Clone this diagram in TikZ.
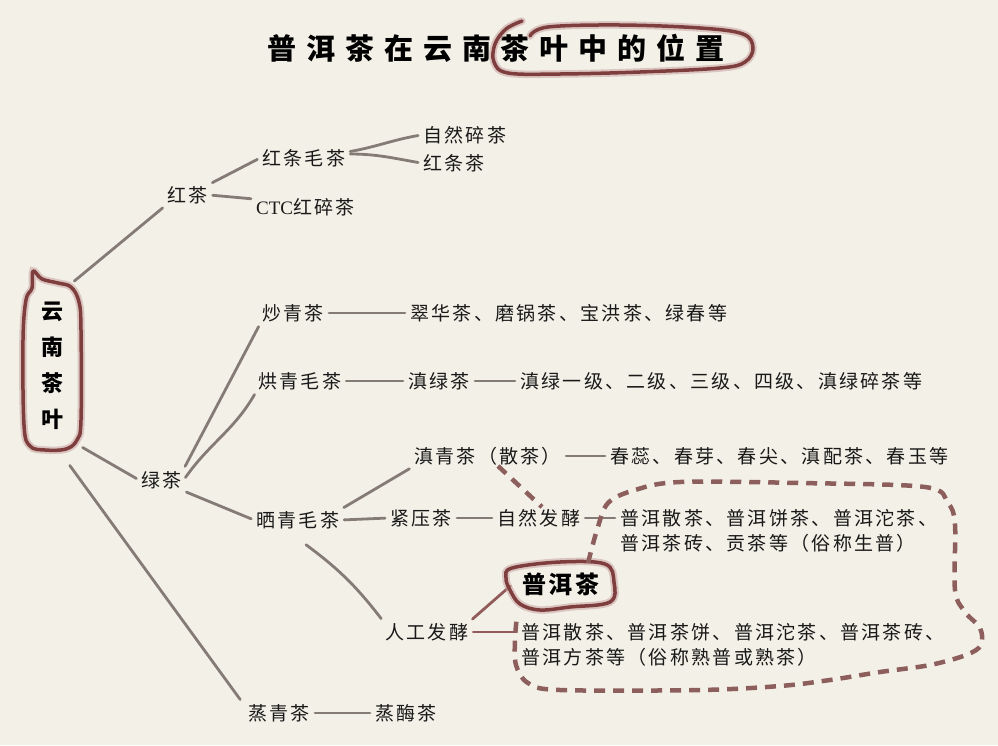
\documentclass[tikz,border=0pt]{standalone}
\usepackage{fontspec}
\setmainfont{Noto Sans CJK SC}[LetterSpace=12]
\newfontfamily\titlefont{Noto Sans CJK SC}[LetterSpace=34]
\newfontfamily\serifL{Liberation Serif}
\usetikzlibrary{calc}
\definecolor{bg}{HTML}{F3F0E7}
\definecolor{ln}{HTML}{857B76}
\definecolor{mar}{HTML}{7E3E3E}
\definecolor{marl}{HTML}{C9A3A0}
\definecolor{dsh}{HTML}{8C5E5C}
\tikzset{
 txt/.style={font=\fontsize{19}{25}\selectfont, inner sep=2pt, anchor=west, text=black!90, align=left},
 link/.style={draw=ln, line width=2.8pt, line cap=round, shorten >=3pt, shorten <=3pt},
 mlink/.style={draw=mar!85, line width=2.8pt, line cap=round, shorten >=3pt, shorten <=3pt},
 ring/.style={draw=mar, line width=3.5pt, line join=round, line cap=round},
 halo/.style={draw=marl, line width=7.5pt, opacity=0.55, line cap=round},
 dashring/.style={draw=dsh, line width=4.5pt, dash pattern=on 11pt off 8pt},
}
\begin{document}
\begin{tikzpicture}[x=1pt,y=-1pt]
\fill[bg] (0,0) rectangle (998,745);
\useasboundingbox (0,0) rectangle (998,745);

% title
\node[font=\titlefont\bfseries\fontsize{29}{31}\selectfont, text=black] (title) at (496,48) {普洱茶在云南茶叶中的位置};
\foreach \s in {halo,ring}
 \draw[\s] plot[smooth, tension=0.6] coordinates {(522,21) (506,29) (495,44) (494,62) (508,73) (560,74) (640,72) (720,68) (745,62) (753,48) (743,34) (700,28) (620,25) (548,27) (530,36)};

% root
\node[font=\bfseries\fontsize{22}{36}\selectfont, align=center, text=black] (yn) at (52,366) {云\\南\\茶\\叶};
\foreach \s in {halo,ring}
 \draw[\s] plot[smooth cycle, tension=0.6] coordinates {(33,271) (42,279) (58,283) (71,287) (79,302) (81,330) (81,420) (77,440) (66,449) (45,450) (30,446) (24,425) (23,340) (26,300) (32,288)};
\coordinate (ynT) at (72,283);
\coordinate (ynB) at (80,446);
\coordinate (ynC) at (68,463);

% nodes
\node[txt] (hc) at (165,195) {红茶};
\node[txt] (htmc) at (260,158) {红条毛茶};
\node[txt] (zrsc) at (421,135) {自然碎茶};
\node[txt] (htc) at (421,163) {红条茶};
\node[txt] (ctc) at (254,207) {{\serifL\addfontfeatures{LetterSpace=0}CTC}红碎茶};
\node[txt] (cqc) at (260,313) {炒青茶};
\node[txt] (cqlist) at (408,313) {翠华茶、磨锅茶、宝洪茶、绿春等};
\node[txt] (hqmc) at (256,381) {烘青毛茶};
\node[txt] (dlc) at (406,381) {滇绿茶};
\node[txt] (dllist) at (518,381) {滇绿一级、二级、三级、四级、滇绿碎茶等};
\node[txt] (dqc) at (412,456) {滇青茶（散茶）};
\node[txt] (dqlist) at (608,456) {春蕊、春芽、春尖、滇配茶、春玉等};
\node[txt] (lc) at (139,480) {绿茶};
\node[txt] (sqmc) at (254,520) {晒青毛茶};
\node[txt] (jyc) at (388,518) {紧压茶};
\node[txt] (zrfj) at (495,518) {自然发酵};
\node[txt] (sp1) at (618,530.5) {普洱散茶、普洱饼茶、普洱沱茶、\\普洱茶砖、贡茶等（俗称生普）};
\node[font=\bfseries\fontsize{24}{26}\selectfont, text=black] (pec) at (561,584) {普洱茶};
\node[txt] (rgfj) at (383,632) {人工发酵};
\node[txt] (sp2) at (519,644.5) {普洱散茶、普洱茶饼、普洱沱茶、普洱茶砖、\\普洱方茶等（俗称熟普或熟茶）};
\node[txt] (zqc) at (246,713) {蒸青茶};
\node[txt] (zmc) at (373,713) {蒸酶茶};

% connectors
\draw[link] (ynT) -- (hc.south west);
\draw[link] (hc.north east) -- (htmc.west);
\draw[link] (hc.east) -- ([yshift=8pt]ctc.west);
\draw[link] ([yshift=6pt]htmc.east) to[out=10,in=190] (zrsc.west);
\draw[link] ([yshift=4pt]htmc.east) to[out=0,in=170] (htc.west);
\draw[link] (ynB) -- (lc.west);
\draw[link] (ynC) -- ([xshift=-4pt]zqc.north west);
\draw[link] (lc.north east) -- (cqc.south west);
\draw[link] (lc.east) to[out=55,in=240] (hqmc.south west);
\draw[link] (lc.south east) -- (sqmc.west);
\draw[link] (cqc.east) -- (cqlist.west);
\draw[link] (hqmc.east) -- (dlc.west);
\draw[link] (dlc.east) -- (dllist.west);
\draw[link] (dqc.east) -- (dqlist.west);
\draw[link] (sqmc.north east) -- (dqc.south west);
\draw[link] (sqmc.east) -- (jyc.west);
\draw[link] (jyc.east) -- (zrfj.west);
\draw[link] (zrfj.east) -- ([yshift=12.5pt]sp1.west);
\draw[link] ([yshift=-12pt,xshift=6pt]sqmc.south) to[bend left=8] (rgfj.north west);
\draw[link] (zqc.east) -- (zmc.west);
\draw[mlink] (rgfj.east) -- ([yshift=12.5pt]sp2.west);
\draw[mlink] (rgfj.north east) -- ([xshift=-6pt]pec.west);

% Pu'er ring
\foreach \s in {halo,ring}
 \draw[\s] plot[smooth cycle, tension=0.6] coordinates {(512,568) (560,562) (605,564) (614,582) (610,602) (570,607) (540,610) (520,604) (510,590) (506,578)};

% dashed
\coordinate (dA) at (498,466);
\coordinate (dB) at (542,507);
\draw[dashring] (dA) -- (dB);
\draw[dashring] plot[smooth, tension=0.55] coordinates {(588,563) (597,530) (608,503) (635,490) (680,482) (800,483) (925,487) (948,503) (955,525) (955,590) (965,612) (980,628) (981,645) (966,655) (930,665) (880,672) (830,680) (780,686) (700,690) (560,690) (528,683) (516,665) (515,640) (517,615)};
\end{tikzpicture}
\end{document}
